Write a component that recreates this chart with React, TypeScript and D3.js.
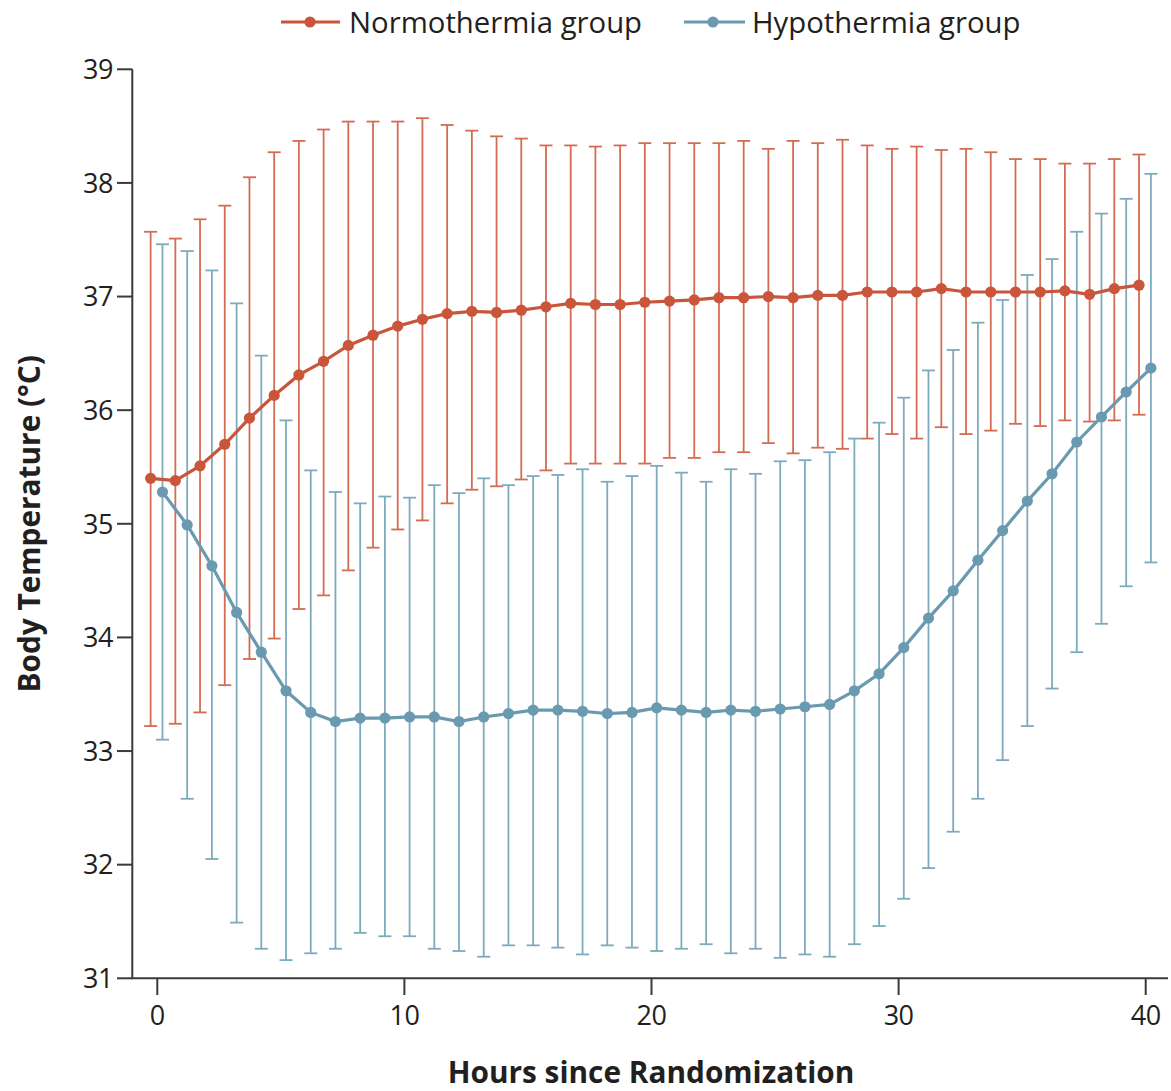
import React from "react";
import * as d3 from "d3";

const hours = [0,1,2,3,4,5,6,7,8,9,10,11,12,13,14,15,16,17,18,19,20,21,22,23,24,25,26,27,28,29,30,31,32,33,34,35,36,37,38,39,40];

const normoMean = [35.40,35.38,35.51,35.70,35.93,36.13,36.31,36.43,36.57,36.66,36.74,36.80,36.85,36.87,36.86,36.88,36.91,36.94,36.93,36.93,36.95,36.96,36.97,36.99,36.99,37.00,36.99,37.01,37.01,37.04,37.04,37.04,37.07,37.04,37.04,37.04,37.04,37.05,37.02,37.07,37.10];
const normoUpper = [37.57,37.51,37.68,37.80,38.05,38.27,38.37,38.47,38.54,38.54,38.54,38.57,38.51,38.46,38.41,38.39,38.33,38.33,38.32,38.33,38.35,38.35,38.35,38.35,38.37,38.30,38.37,38.35,38.38,38.33,38.30,38.32,38.29,38.30,38.27,38.21,38.21,38.17,38.17,38.21,38.25];
const normoLower = [33.22,33.24,33.34,33.58,33.81,33.99,34.25,34.37,34.59,34.79,34.95,35.03,35.18,35.30,35.33,35.39,35.47,35.53,35.53,35.53,35.53,35.58,35.58,35.63,35.63,35.71,35.62,35.67,35.66,35.75,35.79,35.75,35.85,35.79,35.82,35.88,35.86,35.91,35.90,35.91,35.96];

const hypoMean = [35.28,34.99,34.63,34.22,33.87,33.53,33.34,33.26,33.29,33.29,33.30,33.30,33.26,33.30,33.33,33.36,33.36,33.35,33.33,33.34,33.38,33.36,33.34,33.36,33.35,33.37,33.39,33.41,33.53,33.68,33.91,34.17,34.41,34.68,34.94,35.20,35.44,35.72,35.94,36.16,36.37];
const hypoUpper = [37.46,37.40,37.23,36.94,36.48,35.91,35.47,35.28,35.18,35.24,35.23,35.34,35.27,35.40,35.34,35.42,35.43,35.48,35.37,35.42,35.51,35.45,35.37,35.48,35.44,35.55,35.56,35.63,35.75,35.89,36.11,36.35,36.53,36.77,36.97,37.19,37.33,37.57,37.73,37.86,38.08];
const hypoLower = [33.10,32.58,32.05,31.49,31.26,31.16,31.22,31.26,31.40,31.37,31.37,31.26,31.24,31.19,31.29,31.29,31.27,31.21,31.29,31.27,31.24,31.26,31.30,31.22,31.26,31.18,31.21,31.19,31.30,31.46,31.70,31.97,32.29,32.58,32.92,33.22,33.55,33.87,34.12,34.45,34.66];

const xTicks = [0, 10, 20, 30, 40];
const yTicks = [31, 32, 33, 34, 35, 36, 37, 38, 39];

const groupNames = ["Normothermia group", "Hypothermia group"];
const xTitle = "Hours since Randomization";
const yTitle = "Body Temperature (°C)";

const RED = "#c9553b";
const RED_BAR = "#d46b53";
const BLUE = "#6a9ab0";
const BLUE_BAR = "#7eaabd";
const AXIS = "#3a3a3a";
const TEXT = "#231f20";
const FONT = "'Open Sans', Lato, sans-serif";

export default function App() {
  const W = 1171, H = 1091;
  const x = d3.scaleLinear().domain([0, 40]).range([157.3, 1145.7]);
  const y = d3.scaleLinear().domain([31, 39]).range([978.3, 69.3]);

  const series = [
    { name: groupNames[0], mean: normoMean, up: normoUpper, lo: normoLower, off: -0.27, color: RED, bar: RED_BAR },
    { name: groupNames[1], mean: hypoMean, up: hypoUpper, lo: hypoLower, off: 0.21, color: BLUE, bar: BLUE_BAR },
  ];

  const cap = 6.5;

  return (
    <svg width={W} height={H} style={{ position: "absolute", left: 0, top: 0, background: "#fff" }} fontFamily={FONT}>
      {series.map((s) => (
        <g key={s.name + "bars"}>
          {hours.map((h, i) => {
            const cx = x(h + s.off);
            return (
              <g key={i} stroke={s.bar} strokeWidth={1.8}>
                <line x1={cx} x2={cx} y1={y(s.up[i])} y2={y(s.lo[i])} />
                <line x1={cx - cap} x2={cx + cap} y1={y(s.up[i])} y2={y(s.up[i])} />
                <line x1={cx - cap} x2={cx + cap} y1={y(s.lo[i])} y2={y(s.lo[i])} />
              </g>
            );
          })}
        </g>
      ))}
      {series.map((s) => {
        const l = d3.line<number>().x((_, i) => x(hours[i] + s.off)).y((d) => y(d));
        return (
          <g key={s.name + "line"}>
            <path d={l(s.mean) || ""} fill="none" stroke={s.color} strokeWidth={3.2} />
            {s.mean.map((v, i) => (
              <circle key={i} cx={x(hours[i] + s.off)} cy={y(v)} r={5.6} fill={s.color} />
            ))}
          </g>
        );
      })}
      <line x1={132.3} x2={132.3} y1={y(39)} y2={y(31)} stroke={AXIS} strokeWidth={2} />
      {yTicks.map((t) => (
        <g key={t}>
          <line x1={117} x2={132.3} y1={y(t)} y2={y(t)} stroke={AXIS} strokeWidth={2} />
          <text x={113} y={y(t)} dy="0.36em" textAnchor="end" fontSize={27} letterSpacing={-0.5} fill={TEXT}>{t}</text>
        </g>
      ))}
      <line x1={131.3} x2={1168} y1={y(31)} y2={y(31)} stroke={AXIS} strokeWidth={2} />
      {xTicks.map((t) => (
        <g key={t}>
          <line x1={x(t)} x2={x(t)} y1={y(31)} y2={995} stroke={AXIS} strokeWidth={2} />
          <text x={x(t)} y={1025} textAnchor="middle" fontSize={27} letterSpacing={-0.5} fill={TEXT}>{t}</text>
        </g>
      ))}
      <text x={651} y={1083} textAnchor="middle" fontSize={29.8} fontWeight="bold" fill={TEXT}>{xTitle}</text>
      <text transform={`translate(40,${(y(39) + y(31)) / 2}) rotate(-90)`} textAnchor="middle" fontSize={29.8} fontWeight="bold" fill={TEXT}>{yTitle}</text>
      <g>
        <line x1={281} x2={340} y1={22} y2={22} stroke={RED} strokeWidth={3.2} />
        <circle cx={310} cy={22} r={5.6} fill={RED} />
        <text x={349} y={22} dy="0.36em" fontSize={29.3} fill={TEXT}>{groupNames[0]}</text>
        <line x1={684} x2={745} y1={22} y2={22} stroke={BLUE} strokeWidth={3.2} />
        <circle cx={713} cy={22} r={5.6} fill={BLUE} />
        <text x={752} y={22} dy="0.36em" fontSize={29.3} fill={TEXT}>{groupNames[1]}</text>
      </g>
    </svg>
  );
}
